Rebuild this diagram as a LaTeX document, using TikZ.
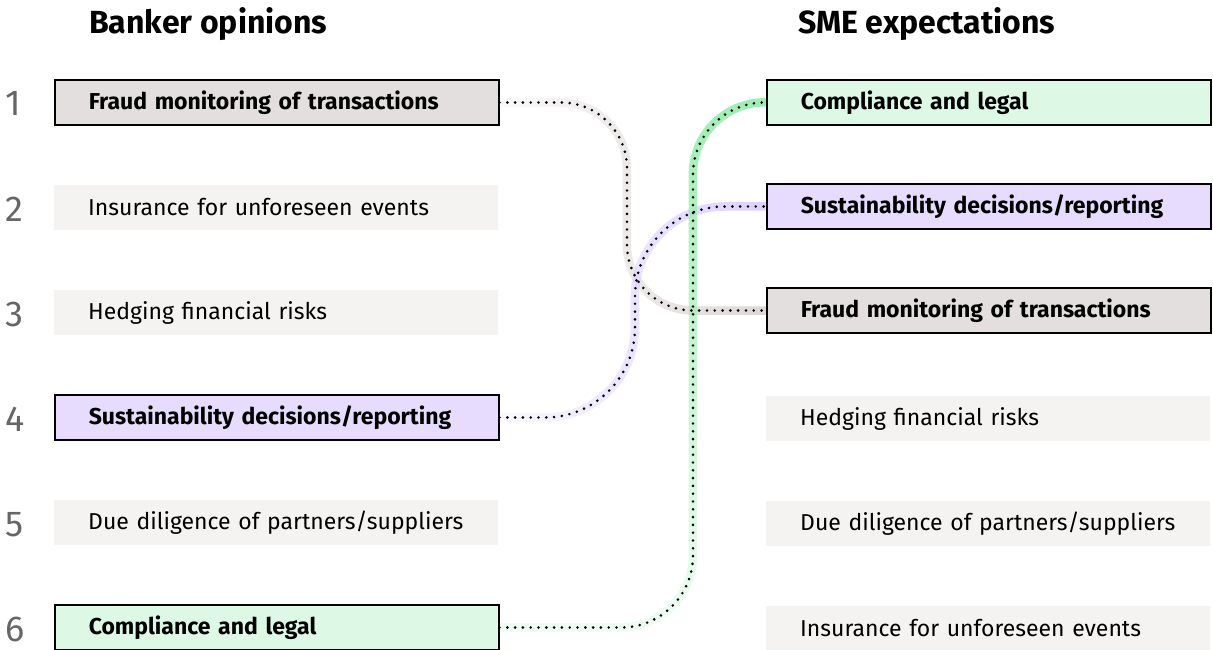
\documentclass[tikz,border=0pt]{standalone}
\usepackage{fontspec}
\setmainfont{Fira Sans}
\usetikzlibrary{fadings}
\definecolor{plainc}{HTML}{F5F2F2}
\definecolor{grayc}{HTML}{E3DFDF}
\definecolor{greenc}{HTML}{DDF8E5}
\definecolor{purplec}{HTML}{E7DCFE}
\definecolor{grayband}{HTML}{DCD7D6}
\definecolor{greenband}{HTML}{9FEEB2}
\definecolor{purpleband}{HTML}{DCD0FF}
\definecolor{numc}{HTML}{666666}
\tikzfading[name=fadeR, left color=transparent!88, right color=transparent!0]
\tikzfading[name=fadeU, bottom color=transparent!85, top color=transparent!0]
\begin{document}
\begin{tikzpicture}[x=1pt,y=-1pt,
  box/.style={anchor=west, minimum height=45pt, text width=376pt, inner xsep=34pt, inner ysep=0pt, align=left, font=\fontsize{23}{27}\selectfont},
  plain/.style={box, fill=plainc},
  hl/.style={box, draw=black, line width=1.5pt, font=\fontsize{23}{27}\selectfont\bfseries},
  num/.style={anchor=base west, inner sep=0pt, text=numc, font=\fontsize{36}{40}\selectfont},
  title/.style={anchor=base west, inner sep=0pt, font=\fontsize{32}{36}\selectfont\bfseries},
  dots/.style={line width=2.9pt, line cap=round, dash pattern=on 0pt off 7.8pt},
  band/.style={line width=8.5pt}
]
\clip (0,0) rectangle (1213,650);
\useasboundingbox (0,0) rectangle (1213,650);

\node[title] (TL) at (89,34) {Banker opinions};
\node[title] (TR) at (798,34) {SME expectations};

% numbers
\node[num] (N1) at (5,116) {1};
\node[num] (N2) at (5,221) {2};
\node[num] (N3) at (5,326) {3};
\node[num] (N4) at (5,431) {4};
\node[num] (N5) at (5,536) {5};
\node[num] (N6) at (5,641) {6};

% left boxes
\node[hl, fill=grayc] (L1) at (54,102.5) {Fraud monitoring of transactions};
\node[plain] (L2) at (54,207.5) {Insurance for unforeseen events};
\node[plain] (L3) at (54,312.5) {Hedging financial risks};
\node[hl, fill=purplec] (L4) at (54,417.5) {Sustainability decisions/reporting};
\node[plain] (L5) at (54,522.5) {Due diligence of partners/suppliers};
\node[hl, fill=greenc] (L6) at (54,627.5) {Compliance and legal};

% right boxes
\node[hl, fill=greenc] (R1) at (766,102.5) {Compliance and legal};
\node[hl, fill=purplec] (R2) at (766,206.5) {Sustainability decisions/reporting};
\node[hl, fill=grayc] (R3) at (766,310.5) {Fraud monitoring of transactions};
\node[plain] (R4) at (766,418.5) {Hedging financial risks};
\node[plain] (R5) at (766,523.5) {Due diligence of partners/suppliers};
\node[plain] (R6) at (766,628) {Insurance for unforeseen events};

% bands
\draw[band, grayband, rounded corners=66pt, path fading=fadeR] (L1.east) -| ([xshift=-139pt]R3.west) -- (R3.west);
\draw[band, purpleband, rounded corners=90pt, path fading=fadeR] (L4.east) -| ([xshift=-131pt]R2.west) -- (R2.west);
\draw[band, greenband, rounded corners=72pt, path fading=fadeU] (L6.east) -| ([xshift=-73pt]R1.west) -- (R1.west);

% dots
\draw[dots, rounded corners=66pt] (L1.east) -| ([xshift=-139pt]R3.west) -- (R3.west);
\draw[dots, rounded corners=90pt] (L4.east) -| ([xshift=-131pt]R2.west) -- (R2.west);
\draw[dots, rounded corners=72pt] (L6.east) -| ([xshift=-73pt]R1.west) -- (R1.west);
\end{tikzpicture}
\end{document}
